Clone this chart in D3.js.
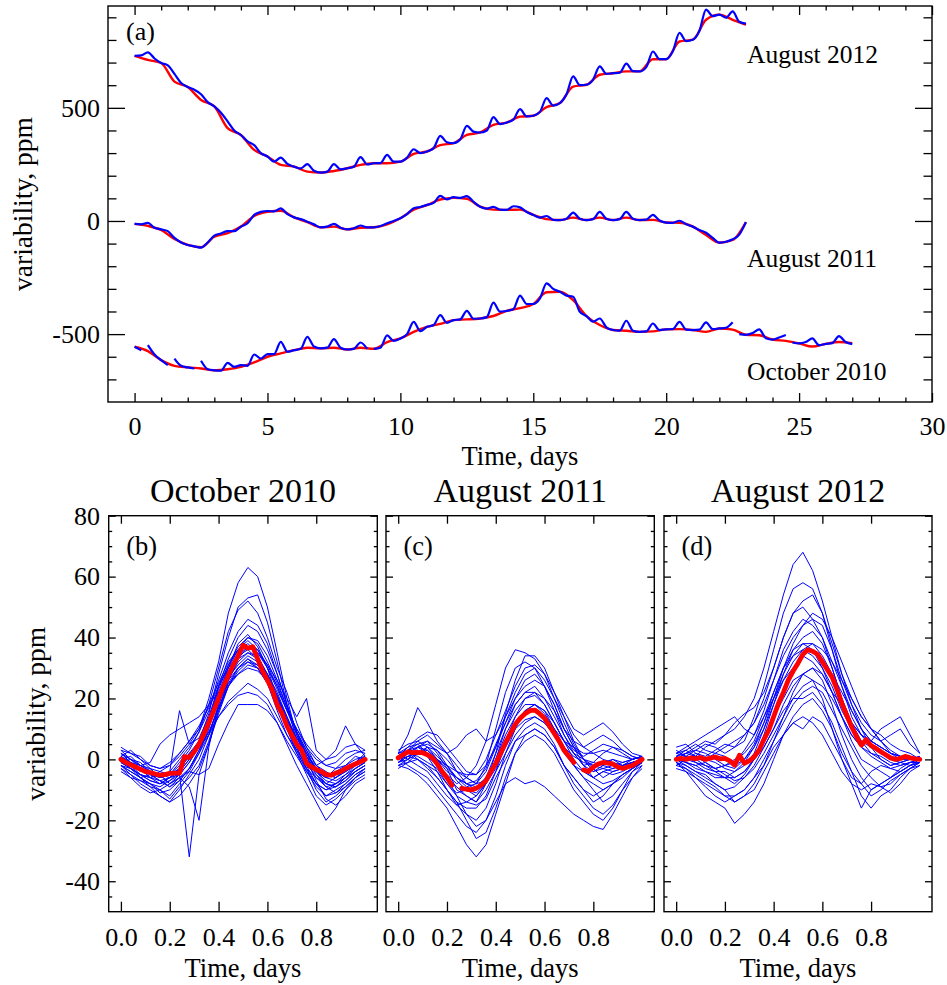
<!DOCTYPE html>
<html><head><meta charset="utf-8">
<script src="https://cdn.jsdelivr.net/npm/d3@7"></script>
<style>
body{margin:0;background:#fff}
svg text{font-family:"Liberation Serif","Times New Roman",serif;fill:#000}
</style>
</head><body>
<svg id="chart" width="947" height="985"></svg>
<script>
// ---------------- DATA: panel (a) ----------------
const aStep = 0.25;      // blue sampling, days
const aRedStep = 0.5;    // red (smoothed) sampling, days
const aTicksX = [0,5,10,15,20,25,30];
const aMinorX = [1,2,3,4,6,7,8,9,11,12,13,14,16,17,18,19,21,22,23,24,26,27,28,29];
const aTicksY = [-500,0,500];
const aMinorY = [-700,-600,-400,-300,-200,-100,100,200,300,400,600,700,800,900];
const seriesNames = ["August 2012","August 2011","October 2010"];

const aug2012Blue = [
 730,732,745,718, 698,688,650,610, 592,580,560,525, 506,478,440,400, 380,352,335,300,
 285,262,280,252, 240,232,251,222, 214,218,251,228, 233,240,282,250, 255,256,292,262,
 262,280,317,300, 307,322,376,348, 344,360,420,395, 391,400,459,428, 435,448,494,462,
 465,482,543,510, 521,560,639,600, 602,625,683,650, 653,655,695,662, 661,680,749,715,
 715,750,831,795, 801,840,934,905, 912,898,926,880, 872];
const aug2012Red = [730,712,698,616,592,535,506,410,380,314,285,248,240,218,214,221,233,248,255,255,
 262,296,307,335,344,380,391,425,435,461,465,503,521,594,602,646,653,661,661,715,715,793,801,889,912,889,867];

const aug2011Blue = [
 -13,-15,-8,-30, -37,-45,-75,-95, -106,-112,-118,-95, -65,-55,-45,-45, -25,-10,27,40,
 44,42,56,30, 16,8,-3,-15, -28,-25,-13,-30, -37,-32,-20,-28, -28,-22,-10,0,
 12,30,56,62, 71,80,111,95, 105,102,110,85, 63,55,62,50, 49,65,60,40,
 27,15,22,5, 4,10,37,10, 4,8,40,10, 4,8,40,10, 4,6,27,2,
 -7,-8,1,-15, -25,-40,-52,-75, -96,-92,-81,-60, -5];
const aug2011Red = [-13,-22,-40,-80,-106,-116,-70,-54,-25,22,40,45,16,-5,-28,-25,-37,-30,-28,-15,
 12,50,70,95,102,98,63,50,49,50,27,8,4,15,4,15,4,15,4,5,-7,-8,-25,-62,-96,-84,-5];

// October 2010 has data gaps: segments with start day, 0.25-day sampling
const oct2010BlueSegments = [
 {start:0, values:[-556,-571]},
 {start:0.5, values:[-549,-590,-615,-637]},
 {start:1.5, values:[-608,-640,-647,-652]},
 {start:2.5, values:[-618,-655,-660,-662, -627,-645,-637,-640, -590,-608,-588,-588,
   -534,-578,-571,-565, -512,-555,-563,-560, -522,-560,-568,-565, -537,-565]},
 {start:9, values:[-565,-560,-506,-530, -519,-500,-446,-487, -468,-460,-416,-450,
   -438,-435,-397,-432, -431,-425,-361,-401, -397,-390,-330,-367, -367,-342,-276,-300,
   -313,-330,-335,-401, -420,-445,-431,-470, -482,-485,-441,-485, -490,-488,-453,-482,
   -479,-478,-446,-480, -482,-480,-448,-478, -475,-472,-448]},
 {start:22.75, values:[-500,-503,-495,-479,-518,-524,-515,-504]},
 {start:24.75, values:[-537,-541,-535,-519,-549,-543,-540,-509,-535,-544]}
];
const oct2010Red = [-556,-575,-615,-640,-647,-652,-660,-655,-645,-625,
 -600,-585,-571,-560,-563,-560,-568,-560,-565,-535,
 -519,-490,-468,-455,-438,-435,-431,-420,-397,-385,
 -367,-315,-313,-350,-420,-460,-482,-485,-490,-488,
 -479,-478,-482,-490,-475,-480,-503,-505,-524,-530,
 -541,-555,-543,-535,-540];

// ---------------- DATA: folded panels (b)-(d) ----------------
const foldStep = 0.04;   // blue sampling, fraction of a day
const meanStep = 0.02;   // red mean sampling
const foldTicksX = [0,0.2,0.4,0.6,0.8];
const foldTicksY = [-40,-20,0,20,40,60,80];
const foldMinorY = [-45,-35,-30,-25,-15,-10,-5,5,10,15,25,30,35,45,50,55,65,70,75];
const panelTitles = ["October 2010","August 2011","August 2012"];
const panelLetters = ["(b)","(c)","(d)"];

const octFoldCurves = [
 [2,-1,-3,-6,-4,-2,2,6,10,20,32,48,58,63,60,50,35,20,8,2,-4,-6,-3,-2,1,0],
 [-2,-4,-6,-8,-9,-7,-4,0,6,15,28,40,50,53,54,45,32,18,6,-2,-8,-10,-8,-5,-3,-1],
 [3,0,-2,-3,-6,-5,-1,3,9,18,30,42,49,52,48,40,30,22,12,4,-2,-4,-6,-4,-1,2],
 [0,-3,-5,-7,-8,-6,-3,1,5,13,24,33,40,44,42,36,28,18,9,1,-4,-7,-8,-6,-4,-2],
 [-1,-2,-6,-9,-10,-12,-8,-4,2,10,21,30,38,41,37,30,20,12,4,-3,-8,-12,-10,-8,-5,-3],
 [4,2,1,-2,-3,-2,1,5,10,18,25,32,36,38,35,30,24,16,10,4,0,-2,-3,0,2,3],
 [-3,-5,-8,-10,-12,-14,-10,-5,0,8,18,26,32,35,33,28,19,10,2,-5,-12,-15,-13,-10,-7,-5],
 [0,-2,-5,-6,-8,-6,-5,-32,-5,5,15,24,30,33,30,25,16,8,2,-3,-6,-8,-9,-6,-3,-1],
 [2,0,-1,-4,-5,-8,-6,-9,-20,4,18,27,33,35,34,28,22,14,6,0,-4,-6,-4,-2,0,1],
 [-2,-5,-7,-8,-11,-10,-7,-3,3,9,17,24,28,31,30,25,18,10,3,-4,-9,-12,-11,-9,-6,-4],
 [1,3,0,-3,-4,-5,-3,2,6,13,22,30,36,40,38,32,25,17,9,3,-2,-5,-6,-3,-1,1],
 [-3,-6,-9,-11,-10,-13,-9,-6,-2,6,16,24,29,32,31,27,20,12,4,-3,-10,-14,-12,-9,-6,-4],
 [0,1,-2,-1,5,8,10,12,14,18,22,26,30,33,31,27,21,13,6,0,-4,-6,-5,-3,-1,0],
 [-1,-3,-5,-6,-5,-8,-6,-4,-5,-3,5,12,18,18,18,16,12,6,1,-4,-8,-10,-9,-7,-4,-2],
 [2,0,-2,-4,-6,-5,-2,2,4,8,14,19,22,25,23,20,14,8,3,-2,-5,-8,-6,-4,-2,0],
 [-2,-4,-6,-5,-7,-9,-7,-3,3,11,20,27,31,34,32,28,21,14,7,1,-5,-9,-11,-8,-5,-3],
 [1,-1,-3,-5,-6,-4,16,5,7,14,24,31,36,39,36,30,23,16,10,5,1,-2,-1,2,3,2],
 [-4,-6,-7,-9,-12,-14,-12,-8,-3,5,16,26,33,37,36,31,24,16,8,0,-7,-13,-15,-12,-8,-6],
 [3,2,0,-2,-3,-1,2,6,11,17,24,30,34,37,35,31,26,20,14,20,3,0,1,4,5,3],
 [-1,-3,-6,-8,-10,-8,-5,-1,4,9,14,18,21,22,21,18,12,5,-2,-8,-14,-20,-16,-10,-6,-3],
 [0,-2,-4,-3,-6,-4,0,4,9,16,26,35,42,46,44,38,28,18,9,2,-3,-6,-7,-5,-2,0],
 [-1,0,-3,-5,-7,-6,-3,1,6,12,19,25,28,30,29,26,20,13,6,-1,-6,-9,-8,-6,-3,-1],
 [0,-2,-3,-6,-7,-9,-6,-3,2,8,17,25,30,32,30,25,19,12,6,1,-2,0,3,11,5,1],
 [1,-1,-2,-4,-5,-6,-4,0,5,12,21,29,34,36,33,28,21,13,7,2,-3,-5,-5,-4,-2,0],
 [-2,-3,-5,-7,-8,-7,-5,-1,5,13,23,31,37,40,39,34,26,17,9,3,-4,-8,-9,-7,-4,-2]
];
const aug2011FoldCurves = [
 [1,3,5,2,-2,-5,-8,-6,-2,6,18,30,36,35,33,28,20,12,5,0,-4,-3,-2,-1,0,1],
 [-2,0,4,6,2,-3,-10,-12,-14,-8,2,15,26,34,34,30,22,14,6,0,-3,-6,-4,-3,-2,-1],
 [2,8,17,12,6,2,-4,-6,-8,-4,4,14,22,28,30,26,20,14,8,4,2,0,-1,-2,0,1],
 [0,2,3,1,-4,-10,-15,-18,-20,-16,-8,2,10,16,18,16,10,4,-2,-6,-8,-10,-8,-5,-3,-1],
 [-2,-3,-5,-8,-12,-16,-22,-28,-32,-28,-18,-8,2,8,10,8,4,-2,-6,-10,-14,-12,-8,-5,-3,-1],
 [1,-2,-4,-6,-10,-14,-18,-22,-24,-20,-14,-8,-6,-8,-7,-9,-12,-15,-18,-20,-22,-23,-18,-12,-6,-2],
 [3,5,6,4,0,-4,-6,-8,-7,-3,5,12,18,22,24,20,14,8,3,1,3,5,4,2,0,1],
 [-1,1,0,-3,-6,-10,-14,-16,-16,-12,-4,5,12,16,18,15,10,4,-2,-6,-10,-14,-12,-8,-4,-2],
 [0,3,6,8,5,2,4,8,10,6,8,14,20,24,26,24,18,10,4,-2,-6,-4,-3,-2,-1,0],
 [2,0,-2,-4,-8,-12,-15,-14,-12,-8,0,10,18,22,22,18,12,6,0,-4,-6,-4,-5,-4,-2,0],
 [-3,-1,2,3,0,-6,-12,-18,-22,-20,-12,-2,6,10,12,10,5,-2,-8,-12,-16,-18,-15,-10,-6,-3],
 [1,4,7,9,8,4,0,-4,-5,0,8,16,24,30,31,28,22,16,10,8,10,12,9,5,2,1],
 [0,2,1,-1,-3,-8,-11,-10,-12,-8,-3,4,10,13,14,12,8,4,1,-1,-2,-3,-4,-3,-1,0],
 [-1,2,4,3,0,-3,-6,-8,-9,-6,-2,6,14,20,21,18,12,6,2,-2,-4,-2,0,-2,-1,0],
 [2,3,0,-2,-6,-10,-14,-20,-26,-24,-16,-6,2,6,8,6,2,-4,-10,-14,-18,-20,-16,-10,-4,-1],
 [0,1,2,4,3,0,-4,-8,-10,-6,2,10,16,20,22,20,16,10,6,4,6,8,6,3,1,0],
 [-2,-1,0,-2,-4,-8,-12,-14,-15,-13,-6,0,6,8,10,8,4,-2,-6,-10,-12,-10,-8,-6,-3,-1],
 [1,3,4,2,0,-2,-4,-5,-5,-2,4,12,20,26,28,24,18,10,4,0,-2,-1,0,-1,0,1],
 [-1,1,3,1,-2,-6,-9,-12,-14,-10,-4,2,8,12,14,12,8,2,-2,-4,-6,-8,-7,-5,-3,-1],
 [0,2,4,5,3,-2,-7,-10,-11,-8,0,8,14,18,18,16,12,6,2,0,-1,-2,-3,-2,-1,0],
 [2,4,5,6,4,2,-2,-6,-8,-7,-2,6,12,16,16,14,10,6,4,2,2,3,2,1,0,1],
 [-1,0,2,4,1,-2,-6,-9,-8,-2,10,22,30,32,30,24,16,8,2,-2,-1,2,4,3,1,0]
];
const aug2012FoldCurves = [
 [2,3,1,4,6,8,10,14,20,30,42,54,64,68,62,52,40,28,18,10,6,4,2,1,0,0],
 [-2,0,2,1,3,5,4,6,14,24,36,48,56,58,56,48,36,24,14,8,4,2,0,-1,-2,-1],
 [1,2,4,6,5,8,12,15,17,22,30,40,48,52,54,48,38,28,20,14,10,8,5,3,2,0],
 [0,-2,-4,-6,-8,-10,-14,-12,-8,-2,6,14,22,28,30,26,18,8,0,-6,-10,-8,-6,-4,-2,0],
 [-1,-4,-8,-12,-14,-16,-21,-18,-14,-8,0,8,14,18,20,16,10,2,-4,-8,-12,-10,-7,-5,-3,-1],
 [3,1,0,-2,-4,-6,-8,-5,0,8,18,28,36,40,42,38,30,20,12,6,2,0,-2,-1,0,1],
 [0,2,3,2,0,-2,-1,3,8,16,26,36,42,46,44,40,32,24,16,10,6,4,2,1,1,0],
 [-2,-3,-6,-9,-12,-14,-12,-10,-6,0,6,12,18,22,24,22,16,10,4,-2,-6,-9,-11,-8,-4,-2],
 [4,5,2,0,-1,-3,-4,-2,2,10,20,30,38,44,46,44,36,26,18,12,8,6,8,10,5,2],
 [1,0,-1,-2,-3,-2,0,2,6,14,22,30,34,36,34,30,24,16,10,6,4,2,0,0,1,0],
 [-1,-2,-4,-5,-8,-10,-9,-6,-2,4,10,16,20,20,22,18,12,4,-4,-12,-16,-12,-10,-6,-3,-1],
 [2,4,6,8,10,12,14,10,8,14,20,26,30,34,32,28,22,18,12,8,6,4,2,1,0,1],
 [0,1,-1,-3,-4,-4,-6,-4,0,4,10,18,24,28,30,28,22,14,6,0,-2,-4,-6,-3,-1,0],
 [-3,-4,-6,-8,-10,-12,-12,-10,-6,-2,4,8,12,14,12,8,2,-4,-8,-10,-8,-9,-8,-5,-3,-2],
 [1,3,5,3,2,4,6,8,12,20,30,40,48,50,46,40,30,20,12,8,6,10,12,14,8,2],
 [0,-1,-3,-4,-6,-6,-4,-1,4,12,22,30,36,38,38,34,28,22,16,10,4,0,-2,-1,0,0],
 [-2,0,1,-1,-3,-5,-7,-6,-3,2,8,14,20,24,26,24,20,14,8,4,1,-1,-3,-4,-2,-1],
 [2,1,3,5,4,2,4,8,12,18,26,34,40,44,48,46,40,32,24,16,10,6,3,1,1,0],
 [-1,-3,-5,-7,-9,-12,-14,-12,-10,-4,2,8,12,10,14,12,6,0,-6,-8,-4,-2,-3,-2,-1,-1],
 [0,2,1,0,2,1,-2,0,4,10,18,26,32,36,38,36,32,26,20,14,10,6,2,0,0,0],
 [1,-1,-2,-1,-3,-2,-3,0,5,12,20,28,34,38,36,30,22,14,8,4,2,1,-1,-2,-1,0],
 [0,-1,-2,-4,-5,-6,-6,-4,0,6,14,20,26,28,26,20,10,0,-8,-16,-10,-8,-6,-4,-2,-1]
];
const octFoldMean = [0,-1,-1.8,-2.5,-3.2,-4,-4.3,-4.8,-5.2,-5,-4.6,-4.5,-4.5,0.9,0.6,
 2.5,5,8.5,12,16,20,24,27.5,31,34,37.5,36.5,37,33,29,26,22.8,18,15,11,
 8,5,3,-1.3,-2.5,-3.3,-4,-5,-5.2,-4.5,-4,-3,-2.2,-1.5,-0.8,0];
const aug2011FoldMean = [0.5,1.5,2.5,2.2,2.3,2.2,1.5,0.5,-1.5,-4,-6,-8.5,null,-9.5,-9.8,
 -10,-9.5,-8.5,-7,-4,-1.3,2,5.5,8.5,11.5,13.5,15,16,16.2,15,13.5,11,8.5,6,3,
 1,-1,null,-3.5,-4,-2.5,-1.5,-1,-1.2,-1.5,-2.5,-3,-2.5,-2,-1,0];
const aug2012FoldMean = [0,0.3,0,0.5,0.2,0.6,0,0.4,0.8,0.2,0.3,-0.5,-1.9,1.4,-1.3,
 -0.5,0.8,3,6.5,9.6,14,18.4,22,26,29,31.6,34.5,36,35.5,34.5,32,29.5,27,23,18.4,
 14.5,10.7,7.5,4.7,6.5,4.5,3.6,2.5,1.5,0.5,0,0.3,1,0.5,0.2,0];

// ---------------- DRAWING ----------------
const BLUE = "#0000ff", RED = "#ff0000";
const FONT = "'Liberation Serif','Times New Roman',serif";
const svg = d3.select("#chart");
const fmtInt = d => String(d);

function styleAxis(g, fs) {
  g.attr("font-family", FONT).attr("font-size", fs);
  g.select(".domain").remove();
  g.selectAll(".tick line").attr("stroke", "#000").attr("stroke-width", 1.3);
  g.selectAll(".tick text").attr("fill", "#000");
}
function addAxis(axis, tx, ty, fs) {
  const g = svg.append("g").attr("transform", `translate(${tx},${ty})`).call(axis);
  styleAxis(g, fs || 26);
  return g;
}
function frame(x0, y0, x1, y1) {
  svg.append("rect").attr("x", x0).attr("y", y0).attr("width", x1 - x0).attr("height", y1 - y0)
    .attr("fill", "none").attr("stroke", "#000").attr("stroke-width", 1.4);
}

// ---- Panel (a) ----
const aL = 108, aR = 932, aT = 6, aB = 402;
const ax = d3.scaleLinear().domain([-1, 30]).range([aL, aR]);
const ay = d3.scaleLinear().domain([-800, 950]).range([aB, aT]);

const gA = svg.append("g");
const lineA = d3.line().defined(d => d[1] != null).x(d => ax(d[0])).y(d => ay(d[1]))
  .curve(d3.curveMonotoneX);
const toPts = (vals, start, step) => vals.map((v, i) => [start + i * step, v]);

// red smoothed series
[aug2012Red, aug2011Red, oct2010Red].forEach(arr => {
  gA.append("path").datum(toPts(arr, 0, aRedStep)).attr("d", lineA)
    .attr("fill", "none").attr("stroke", RED).attr("stroke-width", 2.4).attr("stroke-linejoin", "round");
});
// blue series
[aug2012Blue, aug2011Blue].forEach(arr => {
  gA.append("path").datum(toPts(arr, 0, aStep)).attr("d", lineA)
    .attr("fill", "none").attr("stroke", BLUE).attr("stroke-width", 2.2).attr("stroke-linejoin", "round");
});
oct2010BlueSegments.forEach(s => {
  gA.append("path").datum(toPts(s.values, s.start, aStep)).attr("d", lineA)
    .attr("fill", "none").attr("stroke", BLUE).attr("stroke-width", 2.2).attr("stroke-linejoin", "round");
});

frame(aL, aT, aR, aB);
addAxis(d3.axisBottom(ax).tickValues(aTicksX).tickSizeInner(-9).tickSizeOuter(0).tickPadding(14.5).tickFormat(fmtInt), 0, aB);
addAxis(d3.axisBottom(ax).tickValues(aMinorX).tickSizeInner(-4.5).tickSizeOuter(0).tickFormat(""), 0, aB);
addAxis(d3.axisTop(ax).tickValues(aTicksX).tickSizeInner(-9).tickSizeOuter(0).tickFormat(""), 0, aT);
addAxis(d3.axisTop(ax).tickValues(aMinorX).tickSizeInner(-4.5).tickSizeOuter(0).tickFormat(""), 0, aT);
addAxis(d3.axisLeft(ay).tickValues(aTicksY).tickSizeInner(-17).tickSizeOuter(0).tickPadding(8).tickFormat(fmtInt), aL, 0);
addAxis(d3.axisLeft(ay).tickValues(aMinorY).tickSizeInner(-8.5).tickSizeOuter(0).tickFormat(""), aL, 0);
addAxis(d3.axisRight(ay).tickValues(aTicksY).tickSizeInner(-17).tickSizeOuter(0).tickFormat(""), aR, 0);
addAxis(d3.axisRight(ay).tickValues(aMinorY).tickSizeInner(-8.5).tickSizeOuter(0).tickFormat(""), aR, 0);

svg.append("text").attr("x", (aL + aR) / 2).attr("y", 465).attr("text-anchor", "middle")
  .attr("font-size", 26.5).text("Time, days");
svg.append("text").attr("transform", `translate(32,${(aT + aB) / 2}) rotate(-90)`)
  .attr("text-anchor", "middle").attr("font-size", 27.5).text("variability, ppm");
svg.append("text").attr("x", 126).attr("y", 40).attr("font-size", 26).text("(a)");
const seriesLabelPos = [[747, 63], [747, 267], [747, 380]];
seriesNames.forEach((n, i) => {
  svg.append("text").attr("x", seriesLabelPos[i][0]).attr("y", seriesLabelPos[i][1])
    .attr("font-size", 25.5).text(n);
});

// ---- Panels (b)-(d) ----
const pT = 515.7, pB = 911.7;
const panelX = [[108.7, 377.3], [386, 654.3], [664, 932]];
const fy = d3.scaleLinear().domain([-50, 80]).range([pB, pT]);
const foldSets = [
  {curves: octFoldCurves, mean: octFoldMean},
  {curves: aug2011FoldCurves, mean: aug2011FoldMean},
  {curves: aug2012FoldCurves, mean: aug2012FoldMean}
];

foldSets.forEach((set, p) => {
  const [L, R] = panelX[p];
  const fx = d3.scaleLinear().domain([-0.05, 1.05]).range([L, R]);
  const ln = d3.line().defined(d => d[1] != null).x(d => fx(d[0])).y(d => fy(d[1]));
  const g = svg.append("g");
  set.curves.forEach(c => {
    g.append("path").datum(toPts(c, 0, foldStep)).attr("d", ln)
      .attr("fill", "none").attr("stroke", BLUE).attr("stroke-width", 1).attr("stroke-linejoin", "round");
  });
  g.append("path").datum(toPts(set.mean, 0, meanStep)).attr("d", ln)
    .attr("fill", "none").attr("stroke", RED).attr("stroke-width", 4.8)
    .attr("stroke-linejoin", "round").attr("stroke-linecap", "round");

  frame(L, pT, R, pB);
  addAxis(d3.axisBottom(fx).tickValues(foldTicksX).tickSizeInner(-10).tickSizeOuter(0).tickPadding(15.5).tickFormat(d3.format(".1f")), 0, pB);
  addAxis(d3.axisTop(fx).tickValues(foldTicksX).tickSizeInner(-8).tickSizeOuter(0).tickFormat(""), 0, pT);
  const leftMajor = d3.axisLeft(fy).tickValues(foldTicksY).tickSizeInner(-7).tickSizeOuter(0).tickPadding(8.7);
  leftMajor.tickFormat(p === 0 ? fmtInt : "");
  addAxis(leftMajor, L, 0);
  addAxis(d3.axisLeft(fy).tickValues(foldMinorY).tickSizeInner(-3.5).tickSizeOuter(0).tickFormat(""), L, 0);
  addAxis(d3.axisRight(fy).tickValues(foldTicksY).tickSizeInner(-7).tickSizeOuter(0).tickFormat(""), R, 0);
  addAxis(d3.axisRight(fy).tickValues(foldMinorY).tickSizeInner(-3.5).tickSizeOuter(0).tickFormat(""), R, 0);

  const cx = (L + R) / 2;
  svg.append("text").attr("x", cx).attr("y", 502).attr("text-anchor", "middle")
    .attr("font-size", 34).text(panelTitles[p]);
  svg.append("text").attr("x", cx).attr("y", 977).attr("text-anchor", "middle")
    .attr("font-size", 26.5).text("Time, days");
  svg.append("text").attr("x", L + 17.5).attr("y", 555).attr("font-size", 26.5).text(panelLetters[p]);
});
svg.append("text").attr("transform", `translate(45,${(pT + pB) / 2}) rotate(-90)`)
  .attr("text-anchor", "middle").attr("font-size", 27.5).text("variability, ppm");
</script>
</body></html>
